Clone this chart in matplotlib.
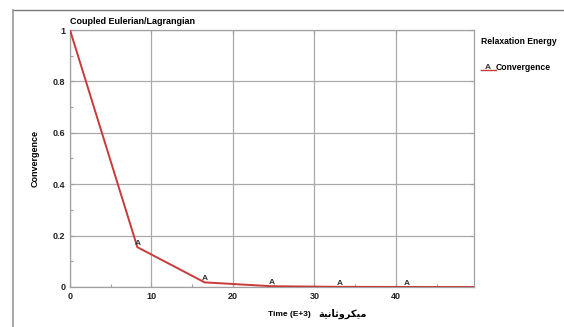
import matplotlib
matplotlib.use("Agg")
import matplotlib.pyplot as plt
from matplotlib.lines import Line2D
from matplotlib.ticker import MultipleLocator

# values
time = [0, 8.27, 16.53, 24.8, 33.07, 41.33, 49.6]
conv = [1.0, 0.155, 0.018, 0.003, 0.0006, 0.0001, 0.0]
marker_time = time[1:6]
marker_conv = conv[1:6]
xticks = [0, 10, 20, 30, 40]
yticks = [0, 0.2, 0.4, 0.6, 0.8, 1]
ytick_labels = ["0", "0.2", "0.4", "0.6", "0.8", "1"]

title = "Coupled Eulerian/Lagrangian"
legend_title = "Relaxation Energy"
series_name = "Convergence"
# "ميكروثانية" written as presentation forms in visual order
arabic = "\ufe94\ufef4\ufee7\ufe8e\ufe9b\ufeed\ufeae\ufedc\ufef4\ufee3"

red = "#c83a3a"
grey = "#a0a0a0"

plt.rcParams['font.family'] = ['Liberation Sans', 'DejaVu Sans']

fig = plt.figure(figsize=(5.64, 3.27), dpi=100)
ax = fig.add_axes([70 / 564, 1 - 287 / 327, (474 - 70) / 564, (287 - 30) / 327])

ax.plot(time, conv, color=red, lw=1.4, zorder=3)
for t, c in zip(marker_time, marker_conv):
    ax.text(t, c, "A", color="#333333", fontsize=6, ha="center", va="bottom",
            fontweight="bold", zorder=4)

ax.set_xlim(0, 49.6)
ax.set_ylim(0, 1)
ax.set_xticks(xticks)
ax.set_yticks(yticks)
ax.set_yticklabels(ytick_labels)
ax.xaxis.set_minor_locator(MultipleLocator(5))
ax.yaxis.set_minor_locator(MultipleLocator(0.1))
ax.grid(True, which="major", color="#aaaaaa", lw=0.9)
ax.tick_params(which="both", colors=grey, labelcolor="#222222", labelsize=6.5,
               direction="in", length=3, top=True, right=True, width=0.8)
ax.tick_params(which="minor", length=2.5, top=False, right=False)
for lab in ax.get_xticklabels() + ax.get_yticklabels():
    lab.set_fontweight("bold")
for s in ax.spines.values():
    s.set_color(grey)
    s.set_linewidth(0.9)

ax.set_ylabel(series_name, fontsize=6.5, fontweight="bold", labelpad=9)
xl = 318 / 564
fig.text(xl, 1 - 314 / 327, "Time (E+3)   ", fontsize=6,
         fontweight="bold", ha="right", va="center")
fig.text(xl, 1 - 314 / 327, arabic, fontsize=7,
         fontweight="bold", ha="left", va="center", family=['DejaVu Sans'])
fig.text(70 / 564, 1 - 22 / 327, title, fontsize=6.5, fontweight="bold",
         ha="left", va="center")

# legend on the right
fig.text(481 / 564, 1 - 41 / 327, legend_title, fontsize=6.2, fontweight="bold",
         ha="left", va="center")
fig.add_artist(Line2D([481 / 564, 496 / 564], [1 - 70 / 327, 1 - 70 / 327],
                      color=red, lw=1.0))
fig.text(488 / 564, 1 - 71 / 327, "A", fontsize=6, fontweight="bold",
         ha="center", va="bottom", color="#333333")
fig.text(496 / 564, 1 - 70.5 / 327, series_name, fontsize=6.2, fontweight="bold",
         ha="left", va="baseline")

# outer frame: top and left edges only
fig.add_artist(Line2D([13 / 564, 1], [1 - 10 / 327, 1 - 10 / 327], color="#777777", lw=1.0))
fig.add_artist(Line2D([13 / 564, 13 / 564], [0, 1 - 10 / 327], color="#999999", lw=1.2))

fig.savefig("out.png", dpi=100)
